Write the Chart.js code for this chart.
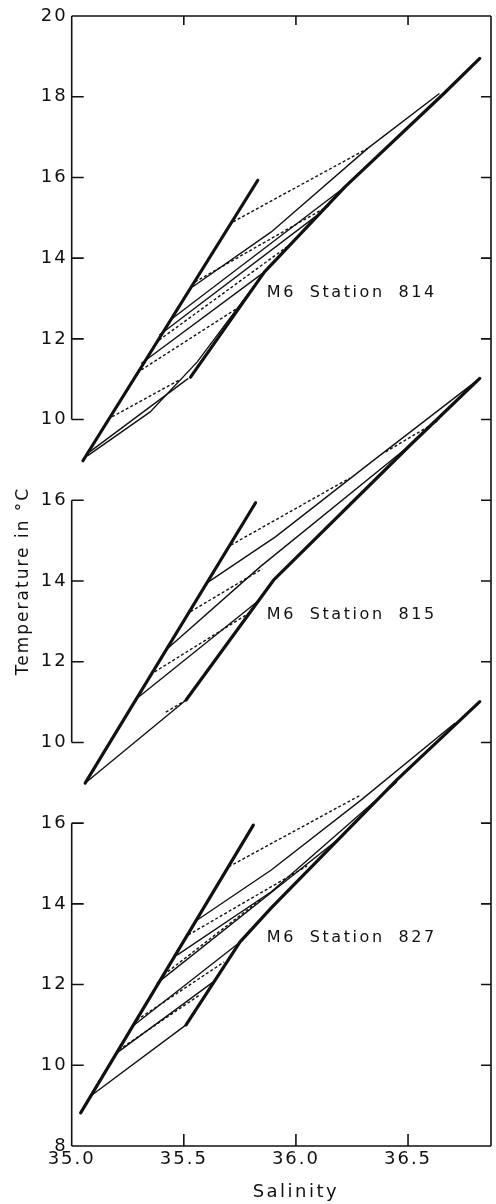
<!DOCTYPE html>
<html><head><meta charset="utf-8">
<script src="https://cdn.jsdelivr.net/npm/chart.js@4"></script>
<style>html,body{margin:0;padding:0;background:#fff}canvas{display:block}</style>
</head><body>
<canvas id="c" width="496" height="1204"></canvas>
<script>
// ---------- data (Salinity, Temperature °C) ----------
const salinityTicks = [35.0, 35.5, 36.0, 36.5];
const salinityMin = 35.0, salinityMax = 36.87;

const tickTemps814 = [10, 12, 14, 16, 18, 20];
const tickTemps815 = [10, 12, 14, 16];
const tickTemps827 = [8, 10, 12, 14, 16];

// Station 814
const bold814 = [
  [[35.05, 8.98], [35.83, 15.93]],
  [[35.53, 11.05], [35.86, 13.66], [36.22, 15.77], [36.66, 18.08], [36.82, 18.95]]
];
const thin814 = [
  [[35.54, 13.29], [35.89, 14.65], [36.32, 16.72], [36.64, 18.08]],
  [[35.45, 12.51], [36.22, 15.77]],
  [[35.39, 12.09], [36.09, 15.04]],
  [[35.31, 11.39], [35.86, 13.66]],
  [[35.08, 9.20], [35.52, 11.02]],
  [[35.07, 9.10], [35.35, 10.19], [35.56, 11.43], [35.86, 13.66]]
];
const dotted814 = [
  [[35.72, 14.90], [36.32, 16.72]],
  [[35.55, 13.41], [36.15, 15.31]],
  [[35.39, 11.97], [35.96, 14.28]],
  [[35.31, 11.23], [35.75, 12.80]],
  [[35.18, 10.07], [35.48, 10.98]]
];

// Station 815
const bold815 = [
  [[35.06, 8.99], [35.82, 15.94]],
  [[35.51, 11.05], [35.90, 14.02], [36.51, 17.37], [36.82, 19.02]]
];
const thin815 = [
  [[35.61, 13.98], [35.91, 15.10], [36.33, 16.92], [36.82, 19.02]],
  [[35.42, 12.29], [35.84, 14.35], [36.51, 17.37]],
  [[35.30, 11.13], [35.83, 13.50]],
  [[35.07, 9.04], [35.51, 11.05]]
];
const dotted815 = [
  [[35.71, 14.89], [36.24, 16.55]],
  [[35.53, 13.24], [35.85, 14.30]],
  [[35.37, 11.75], [35.79, 13.20]],
  [[35.42, 10.75], [35.51, 11.05]],
  [[36.40, 17.20], [36.64, 17.99]]
];

// Station 827
const bold827 = [
  [[35.04, 8.82], [35.81, 15.95]],
  [[35.51, 11.00], [35.75, 13.05], [35.89, 13.90], [36.45, 17.07], [36.82, 19.01]]
];
const thin827 = [
  [[35.56, 13.60], [35.89, 14.84], [36.29, 16.57], [36.71, 18.48]],
  [[35.47, 12.73], [35.89, 14.30], [36.45, 17.02]],
  [[35.38, 12.03], [36.20, 15.65]],
  [[35.27, 10.96], [35.75, 13.05]],
  [[35.20, 10.30], [35.63, 12.06]],
  [[35.08, 9.22], [35.51, 11.00]]
];
const dotted827 = [
  [[35.70, 14.92], [36.29, 16.70]],
  [[35.52, 13.23], [36.05, 14.94]],
  [[35.41, 12.24], [35.85, 14.14]],
  [[35.29, 11.12], [35.68, 12.56]],
  [[35.21, 10.38], [35.57, 11.74]]
];

const stationNames = ['M6 Station 814', 'M6 Station 815', 'M6 Station 827'];
const panelShift = [16, 8, 0];           // vertical stacking of the three panels
const labelSalinity = 35.87, labelTemp = 13.15;

// ---------- build ----------
const panels = [
  {name: stationNames[0], shift: panelShift[0], ticks: tickTemps814, bold: bold814, thin: thin814, dotted: dotted814},
  {name: stationNames[1], shift: panelShift[1], ticks: tickTemps815, bold: bold815, thin: thin815, dotted: dotted815},
  {name: stationNames[2], shift: panelShift[2], ticks: tickTemps827, bold: bold827, thin: thin827, dotted: dotted827}
];

const INK = '#111111';
const datasets = [];
const toPts = (line, shift) => line.map(([s, t]) => ({x: s, y: t + shift}));
panels.forEach(p => {
  p.dotted.forEach(l => datasets.push({data: toPts(l, p.shift), borderColor: INK, borderWidth: 1.4, borderDash: [3, 2.2]}));
  p.thin.forEach(l => datasets.push({data: toPts(l, p.shift), borderColor: INK, borderWidth: 1.4}));
  p.bold.forEach(l => datasets.push({data: toPts(l, p.shift), borderColor: INK, borderWidth: 3.2, borderCapStyle: 'round', borderJoinStyle: 'round'}));
});

const tickLabel = {};
const tickValues = [];
panels.forEach(p => p.ticks.forEach(t => { tickLabel[t + p.shift] = String(t); tickValues.push(t + p.shift); }));
tickValues.sort((a, b) => a - b);
const yMin = tickValues[0], yMax = tickValues[tickValues.length - 1];

const framePlugin = {
  id: 'frame',
  beforeDraw(chart) { chart.ctx.letterSpacing = '2px'; },
  afterDatasetsDraw(chart) {
    const {ctx, chartArea: a, scales: {x, y}} = chart;
    ctx.save();
    ctx.strokeStyle = INK;
    ctx.lineWidth = 1.6;
    ctx.lineCap = 'butt';
    ctx.beginPath();
    // top, bottom and right borders
    ctx.moveTo(a.left, y.getPixelForValue(yMax)); ctx.lineTo(a.right, y.getPixelForValue(yMax));
    ctx.moveTo(a.left, y.getPixelForValue(yMin)); ctx.lineTo(a.right, y.getPixelForValue(yMin));
    ctx.moveTo(a.right, y.getPixelForValue(yMax)); ctx.lineTo(a.right, y.getPixelForValue(yMin));
    ctx.stroke();
    // left axis, one separate segment per panel
    panels.forEach(p => {
      const lo = Math.min(...p.ticks) + p.shift, hi = Math.max(...p.ticks) + p.shift;
      ctx.beginPath();
      ctx.moveTo(a.left, y.getPixelForValue(hi)); ctx.lineTo(a.left, y.getPixelForValue(lo));
      ctx.stroke();
    });
    ctx.beginPath();
    // inward y ticks
    tickValues.forEach(v => {
      if (v === yMin || v === yMax) return;
      const py = y.getPixelForValue(v);
      ctx.moveTo(a.left, py); ctx.lineTo(a.left + 12, py);
      ctx.moveTo(a.right, py); ctx.lineTo(a.right - 10, py);
    });
    // inward x ticks
    salinityTicks.forEach(v => {
      if (v === salinityMin) return;
      const px = x.getPixelForValue(v);
      ctx.moveTo(px, a.top); ctx.lineTo(px, a.top + 9);
      ctx.moveTo(px, a.bottom); ctx.lineTo(px, a.bottom - 12);
    });
    ctx.stroke();

    // station labels
    ctx.fillStyle = INK;
    ctx.font = '16px "DejaVu Sans"';
    ctx.letterSpacing = '2.6px';
    ctx.wordSpacing = '6px';
    ctx.textAlign = 'left';
    ctx.textBaseline = 'middle';
    panels.forEach(p => {
      ctx.fillText(p.name, x.getPixelForValue(labelSalinity), y.getPixelForValue(labelTemp + p.shift));
    });
    // x axis title
    ctx.font = '18px "DejaVu Sans"';
    ctx.letterSpacing = '2.5px';
    ctx.wordSpacing = '0px';
    ctx.textAlign = 'center';
    ctx.fillText('Salinity', x.getPixelForValue(36.0), x.bottom - 12);
    ctx.restore();
  },
  afterDraw(chart) { chart.ctx.letterSpacing = '0px'; }
};

new Chart(document.getElementById('c'), {
  type: 'scatter',
  data: {datasets},
  options: {
    responsive: false,
    animation: false,
    devicePixelRatio: 1,
    showLine: true,
    layout: {padding: {top: 16, right: 5, bottom: 0, left: 0}},
    elements: {point: {radius: 0, hoverRadius: 0}, line: {tension: 0, fill: false}},
    plugins: {legend: {display: false}, tooltip: {enabled: false}},
    events: [],
    scales: {
      x: {
        type: 'linear', min: salinityMin, max: salinityMax,
        afterBuildTicks: s => { s.ticks = salinityTicks.map(v => ({value: v})); },
        afterFit: s => { s.height = 58; },
        grid: {display: false, drawTicks: false},
        border: {display: false},
        ticks: {padding: 3, color: INK, font: {family: 'DejaVu Sans', size: 18}, maxRotation: 0,
                callback: v => Number(v).toFixed(1)}
      },
      y: {
        type: 'linear', min: yMin, max: yMax,
        afterBuildTicks: s => { s.ticks = tickValues.map(v => ({value: v})); },
        afterFit: s => { s.width = 71.7; },
        grid: {display: false, drawTicks: false},
        border: {display: false},
        ticks: {padding: 4, color: INK, font: {family: 'DejaVu Sans', size: 18},
                callback: v => tickLabel[v] ?? ''},
        title: {display: true, text: 'Temperature in °C', color: INK,
                font: {family: 'DejaVu Sans', size: 17}, padding: {top: 13, bottom: 0}}
      }
    }
  },
  plugins: [framePlugin]
});
</script>
</body></html>
